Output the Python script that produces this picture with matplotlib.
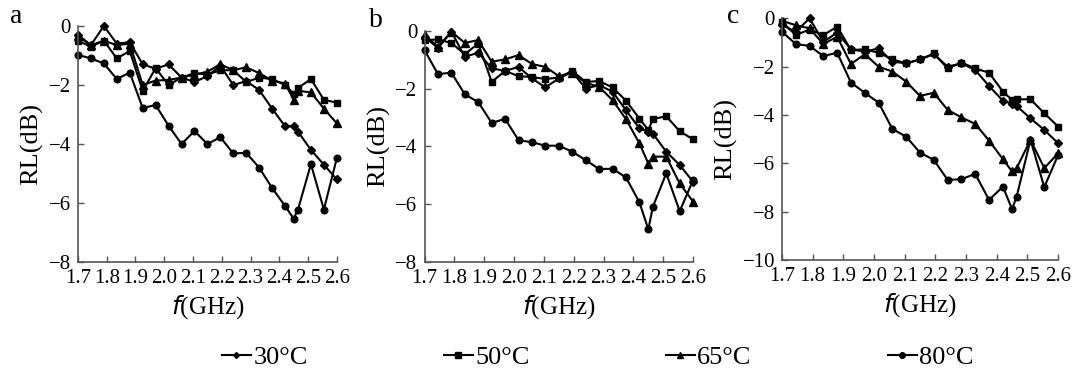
import matplotlib
matplotlib.use("Agg")
import matplotlib.pyplot as plt
from matplotlib.lines import Line2D

plt.rcParams['font.family'] = ['Liberation Serif', 'DejaVu Serif']

# frequency points (GHz)
freq = [1.700, 1.745, 1.790, 1.835, 1.880, 1.925, 1.970, 2.015, 2.060, 2.105, 2.150,
        2.195, 2.240, 2.285, 2.330, 2.375, 2.420, 2.450, 2.465, 2.510, 2.555, 2.600]

# panel a
a_30 = [-0.3, -0.65, 0.0, -0.6, -0.55, -1.3, -1.45, -1.3, -1.75, -1.9, -1.7,
        -1.35, -2.0, -1.87, -2.17, -2.8, -3.4, -3.4, -3.58, -4.2, -4.7, -5.2]
a_50 = [-0.5, -0.7, -0.5, -1.1, -0.85, -2.2, -1.43, -2.0, -1.75, -1.6, -1.65,
        -1.5, -1.5, -1.9, -1.75, -1.8, -2.0, -2.3, -2.1, -1.8, -2.5, -2.6]
a_65 = [-0.35, -0.65, -0.5, -0.65, -0.6, -2.0, -1.85, -1.83, -1.75, -1.65, -1.55,
        -1.3, -1.5, -1.4, -1.6, -1.85, -1.95, -2.5, -2.2, -2.25, -2.8, -3.3]
a_80 = [-0.98, -1.1, -1.27, -1.8, -1.58, -2.78, -2.68, -3.38, -4.0, -3.56, -4.0,
        -3.77, -4.32, -4.3, -4.8, -5.49, -6.1, -6.53, -6.22, -4.68, -6.22, -4.48]

# panel b
b_30 = [-0.2, -0.6, -0.03, -0.9, -0.76, -1.3, -1.39, -1.25, -1.65, -1.96, -1.65,
        -1.42, -2.0, -1.88, -2.11, -2.75, -3.38, -3.5, -3.56, -4.19, -4.65, -5.23]
b_50 = [-0.32, -0.3, -0.42, -0.81, -0.44, -1.77, -1.39, -1.57, -1.6, -1.67, -1.62,
        -1.39, -1.77, -1.74, -1.96, -2.42, -3.04, -3.44, -3.06, -2.96, -3.48, -3.76]
b_65 = [-0.15, -0.55, -0.03, -0.42, -0.32, -1.07, -0.99, -0.84, -1.15, -1.25, -1.57,
        -1.45, -1.8, -1.94, -2.4, -3.06, -3.9, -4.6, -4.36, -4.36, -5.29, -5.92]
b_80 = [-0.67, -1.5, -1.45, -2.2, -2.47, -3.19, -3.05, -3.79, -3.86, -3.98, -3.98,
        -4.19, -4.48, -4.79, -4.78, -5.08, -5.94, -6.88, -6.1, -4.94, -6.25, -5.17]

# panel c
c_30 = [-0.28, -0.55, 0.0, -0.97, -0.59, -1.28, -1.38, -1.24, -1.79, -1.86, -1.7,
        -1.48, -2.0, -1.86, -2.14, -2.8, -3.41, -3.54, -3.63, -4.14, -4.62, -5.17]
c_50 = [-0.14, -0.69, -0.46, -0.69, -0.34, -1.31, -1.28, -1.42, -1.7, -1.86, -1.7,
        -1.45, -2.07, -1.83, -2.07, -2.25, -3.03, -3.38, -3.35, -3.35, -3.93, -4.48]
c_65 = [-0.1, -0.28, -0.41, -1.06, -0.76, -1.89, -1.48, -2.0, -2.2, -2.62, -3.21,
        -3.08, -3.79, -4.1, -4.37, -5.06, -5.83, -6.34, -6.2, -5.03, -6.2, -5.59]
c_80 = [-0.55, -1.06, -1.14, -1.56, -1.42, -2.66, -3.08, -3.49, -4.58, -4.9, -5.56,
        -5.86, -6.69, -6.66, -6.44, -7.52, -6.97, -7.9, -7.38, -5.03, -6.99, -5.66]

labels = ['30°C', '50°C', '65°C', '80°C']
markers = ['D', 's', '^', 'o']
msizes = [3.8, 4.8, 5.2, 4.8]
xticks = [1.7, 1.8, 1.9, 2.0, 2.1, 2.2, 2.3, 2.4, 2.5, 2.6]

panels = [
    ('a', [a_30, a_50, a_65, a_80], -8, [0.072, 0.303, 0.239, 0.628], (0.009, 0.955)),
    ('b', [b_30, b_50, b_65, b_80], -8, [0.392, 0.304, 0.248, 0.614], (0.341, 0.945)),
    ('c', [c_30, c_50, c_65, c_80], -10, [0.722, 0.309, 0.255, 0.642], (0.671, 0.955)),
]

fig = plt.figure(figsize=(10.83, 3.76), dpi=100)

for letter, series, ymin, pos, lpos in panels:
    ax = fig.add_axes(pos)
    for ys, m, ms in zip(series, markers, msizes):
        ax.plot(freq, ys, color='black', lw=1.5, marker=m, markersize=ms, clip_on=False)
    ax.set_xlim(1.7, 2.6)
    ax.set_ylim(ymin, 0)
    ax.set_xticks(xticks)
    ax.set_xticklabels(['%.1f' % t for t in xticks])
    ax.set_yticks(range(ymin, 1, 2))
    for s in ['top', 'right']:
        ax.spines[s].set_visible(False)
    for s in ['left', 'bottom']:
        ax.spines[s].set_color('#555555')
        ax.spines[s].set_linewidth(1.2)
    ax.tick_params(direction='in', length=4, width=1, color='#555555',
                   labelsize=15, pad=5)
    ax.set_ylabel('RL(dB)', fontsize=19, labelpad=4)
    ax.set_xlabel('$\\it{f}$(GHz)', fontsize=18, labelpad=4)
    fig.text(lpos[0], lpos[1], letter, fontsize=20, ha='left', va='center')

handles = [Line2D([], [], color='black', lw=1.5, marker=m, markersize=ms - 0.8)
           for m, ms in zip(markers, msizes)]
fig.legend(handles, labels, loc='center', bbox_to_anchor=(0.552, 0.05), ncol=4,
           frameon=False, fontsize=19, handlelength=1.1, handletextpad=0.1,
           columnspacing=5.15)

fig.savefig('out.png', dpi=100)
